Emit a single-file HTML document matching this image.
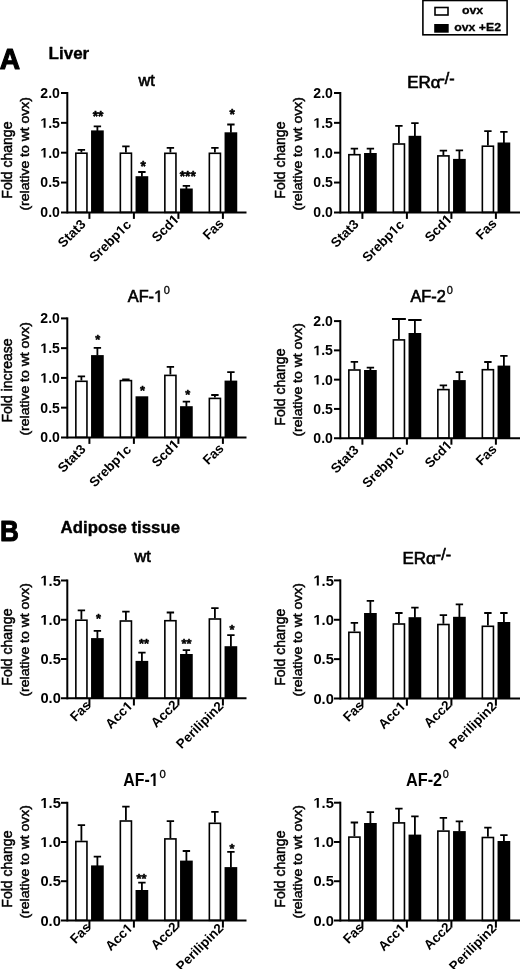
<!DOCTYPE html><html><head><meta charset="utf-8"><style>
html,body{margin:0;padding:0;background:#fff;width:520px;height:969px;overflow:hidden}
svg{display:block;font-family:"Liberation Sans", sans-serif;will-change:transform;font-kerning:none;filter:blur(0.3px)}
</style></head><body>
<svg width="520" height="969" viewBox="0 0 520 969">
<rect width="520" height="969" fill="#fff"/>
<rect x="422.9" y="0.5" width="84.2" height="34.3" fill="none" stroke="#000" stroke-width="1.6"/>
<rect x="435" y="7.5" width="13" height="7.5" fill="#fff" stroke="#000" stroke-width="1.6"/>
<rect x="434.2" y="24" width="14.5" height="8.7" fill="#000"/>
<text transform="translate(462 13.6) scale(1.1 1.0)" font-size="11.2" font-weight="bold" stroke="#000" stroke-width="0.3" stroke-linejoin="round">ovx</text>
<text transform="translate(454.2 31) scale(1.1 1.0)" font-size="11.2" font-weight="bold" stroke="#000" stroke-width="0.3" stroke-linejoin="round">ovx +E2</text>
<text transform="translate(-0.3 68.6) scale(0.93 1.0)" font-size="30.3" font-weight="bold" stroke="#000" stroke-width="1.2" stroke-linejoin="round">A</text>
<text transform="translate(48.6 59.2) scale(1.05 1.0)" font-size="16.2" font-weight="bold" stroke="#000" stroke-width="0.35" stroke-linejoin="round">Liver</text>
<text transform="translate(0 540.8) scale(0.9 1.0)" font-size="29" font-weight="bold" stroke="#000" stroke-width="1.0" stroke-linejoin="round">B</text>
<text transform="translate(60.6 533.2) scale(1.05 1.0)" font-size="16" font-weight="bold" stroke="#000" stroke-width="0.35" stroke-linejoin="round">Adipose tissue</text>
<rect x="75.85" y="153.2" width="11.1" height="59.2" fill="#fff" stroke="#000" stroke-width="1.6"/>
<path d="M81.4 152.4V149.8M77.7 149.8H85.1" stroke="#000" stroke-width="1.8" fill="none"/>
<rect x="91.05" y="130.4" width="12.7" height="82" fill="#000"/>
<path d="M97.4 130.9V126.4M93.7 126.4H101.1" stroke="#000" stroke-width="1.8" fill="none"/>
<path d="M89.4 212.4V218.9" stroke="#000" stroke-width="2.0"/>
<text transform="translate(86.4 225) rotate(-45)" font-size="13.4" font-weight="bold" text-anchor="end">Stat3</text>
<rect x="120.35" y="153.2" width="11.1" height="59.2" fill="#fff" stroke="#000" stroke-width="1.6"/>
<path d="M125.9 152.4V146.3M122.2 146.3H129.6" stroke="#000" stroke-width="1.8" fill="none"/>
<rect x="135.55" y="176.2" width="12.7" height="36.2" fill="#000"/>
<path d="M141.9 176.7V172M138.2 172H145.6" stroke="#000" stroke-width="1.8" fill="none"/>
<path d="M133.9 212.4V218.9" stroke="#000" stroke-width="2.0"/>
<g transform="translate(132 225.4) rotate(-45)"><text font-size="13.4" font-weight="bold" text-anchor="end">Srebp c</text><path d="M478 0L478 1170L140 959L140 1180L493 1409L759 1409L759 0Z" transform="translate(-14.9 0) scale(0.00654 -0.00654)"/></g>
<rect x="164.85" y="153.3" width="11.1" height="59.1" fill="#fff" stroke="#000" stroke-width="1.6"/>
<path d="M170.4 152.5V147.9M166.7 147.9H174.1" stroke="#000" stroke-width="1.8" fill="none"/>
<rect x="180.05" y="188.5" width="12.7" height="23.9" fill="#000"/>
<path d="M186.4 189V185.9M182.7 185.9H190.1" stroke="#000" stroke-width="1.8" fill="none"/>
<path d="M178.4 212.4V218.9" stroke="#000" stroke-width="2.0"/>
<g transform="translate(179.8 220.1) rotate(-45)"><text font-size="13.4" font-weight="bold" text-anchor="end">Scd </text><path d="M478 0L478 1170L140 959L140 1180L493 1409L759 1409L759 0Z" transform="translate(-7.45 0) scale(0.00654 -0.00654)"/></g>
<rect x="209.35" y="153.3" width="11.1" height="59.1" fill="#fff" stroke="#000" stroke-width="1.6"/>
<path d="M214.9 152.5V147.9M211.2 147.9H218.6" stroke="#000" stroke-width="1.8" fill="none"/>
<rect x="224.55" y="132.3" width="12.7" height="80.1" fill="#000"/>
<path d="M230.9 132.8V124.5M227.2 124.5H234.6" stroke="#000" stroke-width="1.8" fill="none"/>
<path d="M222.9 212.4V218.9" stroke="#000" stroke-width="2.0"/>
<text transform="translate(224.5 224.2) rotate(-45)" font-size="13.4" font-weight="bold" text-anchor="end">Fas</text>
<text transform="translate(98.1 120.85)" font-size="13.8" font-weight="bold" text-anchor="middle" stroke="#000" stroke-width="0.5" stroke-linejoin="round">**</text>
<text transform="translate(143.1 170.65)" font-size="13.8" font-weight="bold" text-anchor="middle" stroke="#000" stroke-width="0.5" stroke-linejoin="round">*</text>
<text transform="translate(187.7 180.5)" font-size="13.8" font-weight="bold" text-anchor="middle" stroke="#000" stroke-width="0.5" stroke-linejoin="round">***</text>
<text transform="translate(232.1 118.85)" font-size="13.8" font-weight="bold" text-anchor="middle" stroke="#000" stroke-width="0.5" stroke-linejoin="round">*</text>
<path d="M67.3 92V213.4" stroke="#000" stroke-width="2.0"/>
<path d="M61 212.4H246.5" stroke="#000" stroke-width="2.0"/>
<text transform="translate(59.9 217.3) scale(1.02 1)" font-size="13.8" font-weight="bold" text-anchor="end">0.0</text>
<path d="M61 182.55H67.3" stroke="#000" stroke-width="2.0"/>
<text transform="translate(59.9 187.45) scale(1.02 1)" font-size="13.8" font-weight="bold" text-anchor="end">0.5</text>
<path d="M61 152.7H67.3" stroke="#000" stroke-width="2.0"/>
<g transform="translate(59.9 157.6) scale(1.02 1)"><text font-size="13.8" font-weight="bold" text-anchor="end"> .0</text><path d="M478 0L478 1170L140 959L140 1180L493 1409L759 1409L759 0Z" transform="translate(-19.18 0) scale(0.00674 -0.00674)"/></g>
<path d="M61 122.85H67.3" stroke="#000" stroke-width="2.0"/>
<g transform="translate(59.9 127.75) scale(1.02 1)"><text font-size="13.8" font-weight="bold" text-anchor="end"> .5</text><path d="M478 0L478 1170L140 959L140 1180L493 1409L759 1409L759 0Z" transform="translate(-19.18 0) scale(0.00674 -0.00674)"/></g>
<path d="M61 93H67.3" stroke="#000" stroke-width="2.0"/>
<text transform="translate(59.9 97.9) scale(1.02 1)" font-size="13.8" font-weight="bold" text-anchor="end">2.0</text>
<text transform="translate(11.8 160.1) rotate(-90)" font-size="14" text-anchor="middle" stroke="#000" stroke-width="0.5">Fold change</text>
<text transform="translate(29 153.8) scale(0.92 1) rotate(-90)" font-size="14" text-anchor="middle" stroke="#000" stroke-width="0.5">(relative to wt ovx)</text>
<text transform="translate(138.5 86)" font-size="16.3" stroke="#000" stroke-width="0.65">wt</text>
<rect x="348.85" y="154.7" width="11.1" height="57.7" fill="#fff" stroke="#000" stroke-width="1.6"/>
<path d="M354.4 153.9V148.7M350.7 148.7H358.1" stroke="#000" stroke-width="1.8" fill="none"/>
<rect x="364.05" y="153" width="12.7" height="59.4" fill="#000"/>
<path d="M370.4 153.5V148.7M366.7 148.7H374.1" stroke="#000" stroke-width="1.8" fill="none"/>
<path d="M362.4 212.4V218.9" stroke="#000" stroke-width="2.0"/>
<text transform="translate(359.4 225) rotate(-45)" font-size="13.4" font-weight="bold" text-anchor="end">Stat3</text>
<rect x="393.35" y="144" width="11.1" height="68.4" fill="#fff" stroke="#000" stroke-width="1.6"/>
<path d="M398.9 143.2V125.9M395.2 125.9H402.6" stroke="#000" stroke-width="1.8" fill="none"/>
<rect x="408.55" y="135.8" width="12.7" height="76.6" fill="#000"/>
<path d="M414.9 136.3V123.1M411.2 123.1H418.6" stroke="#000" stroke-width="1.8" fill="none"/>
<path d="M406.9 212.4V218.9" stroke="#000" stroke-width="2.0"/>
<g transform="translate(405 225.4) rotate(-45)"><text font-size="13.4" font-weight="bold" text-anchor="end">Srebp c</text><path d="M478 0L478 1170L140 959L140 1180L493 1409L759 1409L759 0Z" transform="translate(-14.9 0) scale(0.00654 -0.00654)"/></g>
<rect x="437.85" y="155.9" width="11.1" height="56.5" fill="#fff" stroke="#000" stroke-width="1.6"/>
<path d="M443.4 155.1V150.6M439.7 150.6H447.1" stroke="#000" stroke-width="1.8" fill="none"/>
<rect x="453.05" y="158.9" width="12.7" height="53.5" fill="#000"/>
<path d="M459.4 159.4V150.3M455.7 150.3H463.1" stroke="#000" stroke-width="1.8" fill="none"/>
<path d="M451.4 212.4V218.9" stroke="#000" stroke-width="2.0"/>
<g transform="translate(452.8 220.1) rotate(-45)"><text font-size="13.4" font-weight="bold" text-anchor="end">Scd </text><path d="M478 0L478 1170L140 959L140 1180L493 1409L759 1409L759 0Z" transform="translate(-7.45 0) scale(0.00654 -0.00654)"/></g>
<rect x="482.35" y="146.2" width="11.1" height="66.2" fill="#fff" stroke="#000" stroke-width="1.6"/>
<path d="M487.9 145.4V131.2M484.2 131.2H491.6" stroke="#000" stroke-width="1.8" fill="none"/>
<rect x="497.55" y="142.5" width="12.7" height="69.9" fill="#000"/>
<path d="M503.9 143V131.8M500.2 131.8H507.6" stroke="#000" stroke-width="1.8" fill="none"/>
<path d="M495.9 212.4V218.9" stroke="#000" stroke-width="2.0"/>
<text transform="translate(497.5 224.2) rotate(-45)" font-size="13.4" font-weight="bold" text-anchor="end">Fas</text>
<path d="M340.3 92V213.4" stroke="#000" stroke-width="2.0"/>
<path d="M334 212.4H521.5" stroke="#000" stroke-width="2.0"/>
<text transform="translate(332.9 217.3) scale(1.02 1)" font-size="13.8" font-weight="bold" text-anchor="end">0.0</text>
<path d="M334 182.55H340.3" stroke="#000" stroke-width="2.0"/>
<text transform="translate(332.9 187.45) scale(1.02 1)" font-size="13.8" font-weight="bold" text-anchor="end">0.5</text>
<path d="M334 152.7H340.3" stroke="#000" stroke-width="2.0"/>
<g transform="translate(332.9 157.6) scale(1.02 1)"><text font-size="13.8" font-weight="bold" text-anchor="end"> .0</text><path d="M478 0L478 1170L140 959L140 1180L493 1409L759 1409L759 0Z" transform="translate(-19.18 0) scale(0.00674 -0.00674)"/></g>
<path d="M334 122.85H340.3" stroke="#000" stroke-width="2.0"/>
<g transform="translate(332.9 127.75) scale(1.02 1)"><text font-size="13.8" font-weight="bold" text-anchor="end"> .5</text><path d="M478 0L478 1170L140 959L140 1180L493 1409L759 1409L759 0Z" transform="translate(-19.18 0) scale(0.00674 -0.00674)"/></g>
<path d="M334 93H340.3" stroke="#000" stroke-width="2.0"/>
<text transform="translate(332.9 97.9) scale(1.02 1)" font-size="13.8" font-weight="bold" text-anchor="end">2.0</text>
<text transform="translate(284.8 160.1) rotate(-90)" font-size="14" text-anchor="middle" stroke="#000" stroke-width="0.5">Fold change</text>
<text transform="translate(302 153.8) scale(0.92 1) rotate(-90)" font-size="14" text-anchor="middle" stroke="#000" stroke-width="0.5">(relative to wt ovx)</text>
<text transform="translate(407.2 87.7)" font-size="17" stroke="#000" stroke-width="0.65">ERα<tspan dx="-1.1" dy="-4.2" font-size="16">-/-</tspan></text>
<rect x="75.85" y="381.3" width="11.1" height="56.1" fill="#fff" stroke="#000" stroke-width="1.6"/>
<path d="M81.4 380.5V376.4M77.7 376.4H85.1" stroke="#000" stroke-width="1.8" fill="none"/>
<rect x="91.05" y="355.1" width="12.7" height="82.3" fill="#000"/>
<path d="M97.4 355.6V347.8M93.7 347.8H101.1" stroke="#000" stroke-width="1.8" fill="none"/>
<path d="M89.4 437.4V443.9" stroke="#000" stroke-width="2.0"/>
<text transform="translate(86.4 450) rotate(-45)" font-size="13.4" font-weight="bold" text-anchor="end">Stat3</text>
<rect x="120.35" y="380.6" width="11.1" height="56.8" fill="#fff" stroke="#000" stroke-width="1.6"/>
<path d="M125.9 379.8V379.4M122.2 379.4H129.6" stroke="#000" stroke-width="1.8" fill="none"/>
<rect x="135.55" y="396.3" width="12.7" height="41.1" fill="#000"/>
<path d="M133.9 437.4V443.9" stroke="#000" stroke-width="2.0"/>
<g transform="translate(132 450.4) rotate(-45)"><text font-size="13.4" font-weight="bold" text-anchor="end">Srebp c</text><path d="M478 0L478 1170L140 959L140 1180L493 1409L759 1409L759 0Z" transform="translate(-14.9 0) scale(0.00654 -0.00654)"/></g>
<rect x="164.85" y="375.4" width="11.1" height="62" fill="#fff" stroke="#000" stroke-width="1.6"/>
<path d="M170.4 374.6V366.8M166.7 366.8H174.1" stroke="#000" stroke-width="1.8" fill="none"/>
<rect x="180.05" y="406.2" width="12.7" height="31.2" fill="#000"/>
<path d="M186.4 406.7V401.6M182.7 401.6H190.1" stroke="#000" stroke-width="1.8" fill="none"/>
<path d="M178.4 437.4V443.9" stroke="#000" stroke-width="2.0"/>
<g transform="translate(179.8 445.1) rotate(-45)"><text font-size="13.4" font-weight="bold" text-anchor="end">Scd </text><path d="M478 0L478 1170L140 959L140 1180L493 1409L759 1409L759 0Z" transform="translate(-7.45 0) scale(0.00654 -0.00654)"/></g>
<rect x="209.35" y="398.4" width="11.1" height="39" fill="#fff" stroke="#000" stroke-width="1.6"/>
<path d="M214.9 397.6V395M211.2 395H218.6" stroke="#000" stroke-width="1.8" fill="none"/>
<rect x="224.55" y="380.6" width="12.7" height="56.8" fill="#000"/>
<path d="M230.9 381.1V372.1M227.2 372.1H234.6" stroke="#000" stroke-width="1.8" fill="none"/>
<path d="M222.9 437.4V443.9" stroke="#000" stroke-width="2.0"/>
<text transform="translate(224.5 449.2) rotate(-45)" font-size="13.4" font-weight="bold" text-anchor="end">Fas</text>
<text transform="translate(97.7 343.64)" font-size="12.8" font-weight="bold" text-anchor="middle" stroke="#000" stroke-width="0.5" stroke-linejoin="round">*</text>
<text transform="translate(142.4 395.09)" font-size="12.8" font-weight="bold" text-anchor="middle" stroke="#000" stroke-width="0.5" stroke-linejoin="round">*</text>
<text transform="translate(187.7 399.09)" font-size="12.8" font-weight="bold" text-anchor="middle" stroke="#000" stroke-width="0.5" stroke-linejoin="round">*</text>
<path d="M67.3 317.4V438.4" stroke="#000" stroke-width="2.0"/>
<path d="M61 437.4H246.5" stroke="#000" stroke-width="2.0"/>
<text transform="translate(59.9 442.3) scale(1.02 1)" font-size="13.8" font-weight="bold" text-anchor="end">0.0</text>
<path d="M61 407.65H67.3" stroke="#000" stroke-width="2.0"/>
<text transform="translate(59.9 412.55) scale(1.02 1)" font-size="13.8" font-weight="bold" text-anchor="end">0.5</text>
<path d="M61 377.9H67.3" stroke="#000" stroke-width="2.0"/>
<g transform="translate(59.9 382.8) scale(1.02 1)"><text font-size="13.8" font-weight="bold" text-anchor="end"> .0</text><path d="M478 0L478 1170L140 959L140 1180L493 1409L759 1409L759 0Z" transform="translate(-19.18 0) scale(0.00674 -0.00674)"/></g>
<path d="M61 348.15H67.3" stroke="#000" stroke-width="2.0"/>
<g transform="translate(59.9 353.05) scale(1.02 1)"><text font-size="13.8" font-weight="bold" text-anchor="end"> .5</text><path d="M478 0L478 1170L140 959L140 1180L493 1409L759 1409L759 0Z" transform="translate(-19.18 0) scale(0.00674 -0.00674)"/></g>
<path d="M61 318.4H67.3" stroke="#000" stroke-width="2.0"/>
<text transform="translate(59.9 323.3) scale(1.02 1)" font-size="13.8" font-weight="bold" text-anchor="end">2.0</text>
<text transform="translate(11.8 380.5) rotate(-90)" font-size="14" text-anchor="middle" stroke="#000" stroke-width="0.5">Fold increase</text>
<text transform="translate(29 378.8) scale(0.92 1) rotate(-90)" font-size="14" text-anchor="middle" stroke="#000" stroke-width="0.5">(relative to wt ovx)</text>
<g transform="translate(127.8 301.9)"><text font-size="16.3" stroke="#000" stroke-width="0.65">AF- </text><path d="M515 0L515 1237L197 1010L197 1180L530 1409L696 1409L696 0Z" transform="translate(26.26 0) scale(0.00796 -0.00796)" stroke="#000" stroke-width="81.7" stroke-linejoin="round"/></g>
<text transform="translate(163.8 294.3)" font-size="11" stroke="#000" stroke-width="0.3">0</text>
<rect x="348.85" y="370" width="11.1" height="68.2" fill="#fff" stroke="#000" stroke-width="1.6"/>
<path d="M354.4 369.2V361.9M350.7 361.9H358.1" stroke="#000" stroke-width="1.8" fill="none"/>
<rect x="364.05" y="370" width="12.7" height="68.2" fill="#000"/>
<path d="M370.4 370.5V367.6M366.7 367.6H374.1" stroke="#000" stroke-width="1.8" fill="none"/>
<path d="M362.4 438.2V444.7" stroke="#000" stroke-width="2.0"/>
<text transform="translate(359.4 450.8) rotate(-45)" font-size="13.4" font-weight="bold" text-anchor="end">Stat3</text>
<rect x="393.35" y="339.9" width="11.1" height="98.3" fill="#fff" stroke="#000" stroke-width="1.6"/>
<path d="M398.9 339.1V319M391.95 319H405.85" stroke="#000" stroke-width="1.8" fill="none"/>
<rect x="408.55" y="333" width="12.7" height="105.2" fill="#000"/>
<path d="M414.9 333.5V320M408.2 320H421.6" stroke="#000" stroke-width="1.8" fill="none"/>
<path d="M406.9 438.2V444.7" stroke="#000" stroke-width="2.0"/>
<g transform="translate(405 451.2) rotate(-45)"><text font-size="13.4" font-weight="bold" text-anchor="end">Srebp c</text><path d="M478 0L478 1170L140 959L140 1180L493 1409L759 1409L759 0Z" transform="translate(-14.9 0) scale(0.00654 -0.00654)"/></g>
<rect x="437.85" y="389.6" width="11.1" height="48.6" fill="#fff" stroke="#000" stroke-width="1.6"/>
<path d="M443.4 388.8V385.3M439.7 385.3H447.1" stroke="#000" stroke-width="1.8" fill="none"/>
<rect x="453.05" y="380.1" width="12.7" height="58.1" fill="#000"/>
<path d="M459.4 380.6V372.2M455.7 372.2H463.1" stroke="#000" stroke-width="1.8" fill="none"/>
<path d="M451.4 438.2V444.7" stroke="#000" stroke-width="2.0"/>
<g transform="translate(452.8 445.9) rotate(-45)"><text font-size="13.4" font-weight="bold" text-anchor="end">Scd </text><path d="M478 0L478 1170L140 959L140 1180L493 1409L759 1409L759 0Z" transform="translate(-7.45 0) scale(0.00654 -0.00654)"/></g>
<rect x="482.35" y="369.7" width="11.1" height="68.5" fill="#fff" stroke="#000" stroke-width="1.6"/>
<path d="M487.9 368.9V362M484.2 362H491.6" stroke="#000" stroke-width="1.8" fill="none"/>
<rect x="497.55" y="365.6" width="12.7" height="72.6" fill="#000"/>
<path d="M503.9 366.1V355.9M500.2 355.9H507.6" stroke="#000" stroke-width="1.8" fill="none"/>
<path d="M495.9 438.2V444.7" stroke="#000" stroke-width="2.0"/>
<text transform="translate(497.5 450) rotate(-45)" font-size="13.4" font-weight="bold" text-anchor="end">Fas</text>
<path d="M340.3 320.1V439.2" stroke="#000" stroke-width="2.0"/>
<path d="M334 438.2H521.5" stroke="#000" stroke-width="2.0"/>
<text transform="translate(332.9 443.1) scale(1.02 1)" font-size="13.8" font-weight="bold" text-anchor="end">0.0</text>
<path d="M334 408.93H340.3" stroke="#000" stroke-width="2.0"/>
<text transform="translate(332.9 413.82) scale(1.02 1)" font-size="13.8" font-weight="bold" text-anchor="end">0.5</text>
<path d="M334 379.65H340.3" stroke="#000" stroke-width="2.0"/>
<g transform="translate(332.9 384.55) scale(1.02 1)"><text font-size="13.8" font-weight="bold" text-anchor="end"> .0</text><path d="M478 0L478 1170L140 959L140 1180L493 1409L759 1409L759 0Z" transform="translate(-19.18 0) scale(0.00674 -0.00674)"/></g>
<path d="M334 350.38H340.3" stroke="#000" stroke-width="2.0"/>
<g transform="translate(332.9 355.27) scale(1.02 1)"><text font-size="13.8" font-weight="bold" text-anchor="end"> .5</text><path d="M478 0L478 1170L140 959L140 1180L493 1409L759 1409L759 0Z" transform="translate(-19.18 0) scale(0.00674 -0.00674)"/></g>
<path d="M334 321.1H340.3" stroke="#000" stroke-width="2.0"/>
<text transform="translate(332.9 326) scale(1.02 1)" font-size="13.8" font-weight="bold" text-anchor="end">2.0</text>
<text transform="translate(284.8 387.1) rotate(-90)" font-size="14" text-anchor="middle" stroke="#000" stroke-width="0.5">Fold change</text>
<text transform="translate(302 379.8) scale(0.92 1) rotate(-90)" font-size="14" text-anchor="middle" stroke="#000" stroke-width="0.5">(relative to wt ovx)</text>
<text transform="translate(410.4 301.9)" font-size="16.3" stroke="#000" stroke-width="0.65">AF-2</text>
<text transform="translate(446.8 294.3)" font-size="11" stroke="#000" stroke-width="0.3">0</text>
<rect x="75.85" y="620.2" width="11.1" height="78.1" fill="#fff" stroke="#000" stroke-width="1.6"/>
<path d="M81.4 619.4V610.4M77.7 610.4H85.1" stroke="#000" stroke-width="1.8" fill="none"/>
<rect x="91.05" y="638.1" width="12.7" height="60.2" fill="#000"/>
<path d="M97.4 638.6V630.8M93.7 630.8H101.1" stroke="#000" stroke-width="1.8" fill="none"/>
<path d="M89.4 698.3V705.5" stroke="#000" stroke-width="2.0"/>
<text transform="translate(91.8 706) rotate(-45)" font-size="13.4" font-weight="bold" text-anchor="end">Fas</text>
<rect x="120.35" y="621" width="11.1" height="77.3" fill="#fff" stroke="#000" stroke-width="1.6"/>
<path d="M125.9 620.2V611.6M122.2 611.6H129.6" stroke="#000" stroke-width="1.8" fill="none"/>
<rect x="135.55" y="660.9" width="12.7" height="37.4" fill="#000"/>
<path d="M141.9 661.4V652.6M138.2 652.6H145.6" stroke="#000" stroke-width="1.8" fill="none"/>
<path d="M133.9 698.3V705.5" stroke="#000" stroke-width="2.0"/>
<g transform="translate(133.4 706.8) rotate(-45)"><text font-size="13.4" font-weight="bold" text-anchor="end">Acc </text><path d="M478 0L478 1170L140 959L140 1180L493 1409L759 1409L759 0Z" transform="translate(-7.45 0) scale(0.00654 -0.00654)"/></g>
<rect x="164.85" y="620.7" width="11.1" height="77.6" fill="#fff" stroke="#000" stroke-width="1.6"/>
<path d="M170.4 619.9V612.5M166.7 612.5H174.1" stroke="#000" stroke-width="1.8" fill="none"/>
<rect x="180.05" y="654" width="12.7" height="44.3" fill="#000"/>
<path d="M186.4 654.5V650.2M182.7 650.2H190.1" stroke="#000" stroke-width="1.8" fill="none"/>
<path d="M178.4 698.3V705.5" stroke="#000" stroke-width="2.0"/>
<text transform="translate(179 705.7) rotate(-45)" font-size="13.4" font-weight="bold" text-anchor="end">Acc2</text>
<rect x="209.35" y="619" width="11.1" height="79.3" fill="#fff" stroke="#000" stroke-width="1.6"/>
<path d="M214.9 618.2V608.1M211.2 608.1H218.6" stroke="#000" stroke-width="1.8" fill="none"/>
<rect x="224.55" y="646.2" width="12.7" height="52.1" fill="#000"/>
<path d="M230.9 646.7V635.1M227.2 635.1H234.6" stroke="#000" stroke-width="1.8" fill="none"/>
<path d="M222.9 698.3V705.5" stroke="#000" stroke-width="2.0"/>
<text transform="translate(224.2 706.9) rotate(-45)" font-size="13.4" font-weight="bold" text-anchor="end">Perilipin2</text>
<text transform="translate(98.6 623.04)" font-size="12.8" font-weight="bold" text-anchor="middle" stroke="#000" stroke-width="0.5" stroke-linejoin="round">*</text>
<text transform="translate(144 647.64)" font-size="12.8" font-weight="bold" text-anchor="middle" stroke="#000" stroke-width="0.5" stroke-linejoin="round">**</text>
<text transform="translate(186.4 647.99)" font-size="12.8" font-weight="bold" text-anchor="middle" stroke="#000" stroke-width="0.5" stroke-linejoin="round">**</text>
<text transform="translate(231.9 633.94)" font-size="12.8" font-weight="bold" text-anchor="middle" stroke="#000" stroke-width="0.5" stroke-linejoin="round">*</text>
<path d="M67.3 579.5V699.3" stroke="#000" stroke-width="2.0"/>
<path d="M61 698.3H246.5" stroke="#000" stroke-width="2.0"/>
<text transform="translate(60.8 703.4) scale(1.02 1)" font-size="14.4" font-weight="bold" text-anchor="end">0.0</text>
<path d="M61 659.03H67.3" stroke="#000" stroke-width="2.0"/>
<text transform="translate(60.8 664.13) scale(1.02 1)" font-size="14.4" font-weight="bold" text-anchor="end">0.5</text>
<path d="M61 619.77H67.3" stroke="#000" stroke-width="2.0"/>
<g transform="translate(60.8 624.87) scale(1.02 1)"><text font-size="14.4" font-weight="bold" text-anchor="end"> .0</text><path d="M478 0L478 1170L140 959L140 1180L493 1409L759 1409L759 0Z" transform="translate(-20.02 0) scale(0.00703 -0.00703)"/></g>
<path d="M61 580.5H67.3" stroke="#000" stroke-width="2.0"/>
<g transform="translate(60.8 585.6) scale(1.02 1)"><text font-size="14.4" font-weight="bold" text-anchor="end"> .5</text><path d="M478 0L478 1170L140 959L140 1180L493 1409L759 1409L759 0Z" transform="translate(-20.02 0) scale(0.00703 -0.00703)"/></g>
<text transform="translate(11.8 647.1) rotate(-90)" font-size="14" text-anchor="middle" stroke="#000" stroke-width="0.5">Fold change</text>
<text transform="translate(29 639.8) scale(0.92 1) rotate(-90)" font-size="14" text-anchor="middle" stroke="#000" stroke-width="0.5">(relative to wt ovx)</text>
<text transform="translate(134.4 562)" font-size="16.3" stroke="#000" stroke-width="0.65">wt</text>
<rect x="348.85" y="632.3" width="11.1" height="66.2" fill="#fff" stroke="#000" stroke-width="1.6"/>
<path d="M354.4 631.5V622.9M350.7 622.9H358.1" stroke="#000" stroke-width="1.8" fill="none"/>
<rect x="364.05" y="613" width="12.7" height="85.5" fill="#000"/>
<path d="M370.4 613.5V600.9M366.7 600.9H374.1" stroke="#000" stroke-width="1.8" fill="none"/>
<path d="M362.4 698.5V705.7" stroke="#000" stroke-width="2.0"/>
<text transform="translate(364.8 706.2) rotate(-45)" font-size="13.4" font-weight="bold" text-anchor="end">Fas</text>
<rect x="393.35" y="624" width="11.1" height="74.5" fill="#fff" stroke="#000" stroke-width="1.6"/>
<path d="M398.9 623.2V613M395.2 613H402.6" stroke="#000" stroke-width="1.8" fill="none"/>
<rect x="408.55" y="617.2" width="12.7" height="81.3" fill="#000"/>
<path d="M414.9 617.7V607.6M411.2 607.6H418.6" stroke="#000" stroke-width="1.8" fill="none"/>
<path d="M406.9 698.5V705.7" stroke="#000" stroke-width="2.0"/>
<g transform="translate(406.4 707) rotate(-45)"><text font-size="13.4" font-weight="bold" text-anchor="end">Acc </text><path d="M478 0L478 1170L140 959L140 1180L493 1409L759 1409L759 0Z" transform="translate(-7.45 0) scale(0.00654 -0.00654)"/></g>
<rect x="437.85" y="624.5" width="11.1" height="74" fill="#fff" stroke="#000" stroke-width="1.6"/>
<path d="M443.4 623.7V615.1M439.7 615.1H447.1" stroke="#000" stroke-width="1.8" fill="none"/>
<rect x="453.05" y="616.8" width="12.7" height="81.7" fill="#000"/>
<path d="M459.4 617.3V604.4M455.7 604.4H463.1" stroke="#000" stroke-width="1.8" fill="none"/>
<path d="M451.4 698.5V705.7" stroke="#000" stroke-width="2.0"/>
<text transform="translate(452 705.9) rotate(-45)" font-size="13.4" font-weight="bold" text-anchor="end">Acc2</text>
<rect x="482.35" y="626.3" width="11.1" height="72.2" fill="#fff" stroke="#000" stroke-width="1.6"/>
<path d="M487.9 625.5V613M484.2 613H491.6" stroke="#000" stroke-width="1.8" fill="none"/>
<rect x="497.55" y="622" width="12.7" height="76.5" fill="#000"/>
<path d="M503.9 622.5V613M500.2 613H507.6" stroke="#000" stroke-width="1.8" fill="none"/>
<path d="M495.9 698.5V705.7" stroke="#000" stroke-width="2.0"/>
<text transform="translate(497.2 707.1) rotate(-45)" font-size="13.4" font-weight="bold" text-anchor="end">Perilipin2</text>
<path d="M340.3 579.4V699.5" stroke="#000" stroke-width="2.0"/>
<path d="M334 698.5H521.5" stroke="#000" stroke-width="2.0"/>
<text transform="translate(333.8 703.6) scale(1.02 1)" font-size="14.4" font-weight="bold" text-anchor="end">0.0</text>
<path d="M334 659.13H340.3" stroke="#000" stroke-width="2.0"/>
<text transform="translate(333.8 664.23) scale(1.02 1)" font-size="14.4" font-weight="bold" text-anchor="end">0.5</text>
<path d="M334 619.77H340.3" stroke="#000" stroke-width="2.0"/>
<g transform="translate(333.8 624.87) scale(1.02 1)"><text font-size="14.4" font-weight="bold" text-anchor="end"> .0</text><path d="M478 0L478 1170L140 959L140 1180L493 1409L759 1409L759 0Z" transform="translate(-20.02 0) scale(0.00703 -0.00703)"/></g>
<path d="M334 580.4H340.3" stroke="#000" stroke-width="2.0"/>
<g transform="translate(333.8 585.5) scale(1.02 1)"><text font-size="14.4" font-weight="bold" text-anchor="end"> .5</text><path d="M478 0L478 1170L140 959L140 1180L493 1409L759 1409L759 0Z" transform="translate(-20.02 0) scale(0.00703 -0.00703)"/></g>
<text transform="translate(284.8 647.3) rotate(-90)" font-size="14" text-anchor="middle" stroke="#000" stroke-width="0.5">Fold change</text>
<text transform="translate(302 639.8) scale(0.92 1) rotate(-90)" font-size="14" text-anchor="middle" stroke="#000" stroke-width="0.5">(relative to wt ovx)</text>
<text transform="translate(402.4 564.2)" font-size="17" stroke="#000" stroke-width="0.65">ERα<tspan dy="-4.2" font-size="16">-/-</tspan></text>
<rect x="75.85" y="841.5" width="11.1" height="78.9" fill="#fff" stroke="#000" stroke-width="1.6"/>
<path d="M81.4 840.7V825.1M77.7 825.1H85.1" stroke="#000" stroke-width="1.8" fill="none"/>
<rect x="91.05" y="865.4" width="12.7" height="55" fill="#000"/>
<path d="M97.4 865.9V856.7M93.7 856.7H101.1" stroke="#000" stroke-width="1.8" fill="none"/>
<path d="M89.4 920.4V927.6" stroke="#000" stroke-width="2.0"/>
<text transform="translate(91.8 928.1) rotate(-45)" font-size="13.4" font-weight="bold" text-anchor="end">Fas</text>
<rect x="120.35" y="821" width="11.1" height="99.4" fill="#fff" stroke="#000" stroke-width="1.6"/>
<path d="M125.9 820.2V806.6M122.2 806.6H129.6" stroke="#000" stroke-width="1.8" fill="none"/>
<rect x="135.55" y="890" width="12.7" height="30.4" fill="#000"/>
<path d="M141.9 890.5V882.7M138.2 882.7H145.6" stroke="#000" stroke-width="1.8" fill="none"/>
<path d="M133.9 920.4V927.6" stroke="#000" stroke-width="2.0"/>
<g transform="translate(133.4 928.9) rotate(-45)"><text font-size="13.4" font-weight="bold" text-anchor="end">Acc </text><path d="M478 0L478 1170L140 959L140 1180L493 1409L759 1409L759 0Z" transform="translate(-7.45 0) scale(0.00654 -0.00654)"/></g>
<rect x="164.85" y="838.9" width="11.1" height="81.5" fill="#fff" stroke="#000" stroke-width="1.6"/>
<path d="M170.4 838.1V821.1M166.7 821.1H174.1" stroke="#000" stroke-width="1.8" fill="none"/>
<rect x="180.05" y="860.6" width="12.7" height="59.8" fill="#000"/>
<path d="M186.4 861.1V851M182.7 851H190.1" stroke="#000" stroke-width="1.8" fill="none"/>
<path d="M178.4 920.4V927.6" stroke="#000" stroke-width="2.0"/>
<text transform="translate(179 927.8) rotate(-45)" font-size="13.4" font-weight="bold" text-anchor="end">Acc2</text>
<rect x="209.35" y="823.3" width="11.1" height="97.1" fill="#fff" stroke="#000" stroke-width="1.6"/>
<path d="M214.9 822.5V811.8M211.2 811.8H218.6" stroke="#000" stroke-width="1.8" fill="none"/>
<rect x="224.55" y="867.1" width="12.7" height="53.3" fill="#000"/>
<path d="M230.9 867.6V851.9M227.2 851.9H234.6" stroke="#000" stroke-width="1.8" fill="none"/>
<path d="M222.9 920.4V927.6" stroke="#000" stroke-width="2.0"/>
<text transform="translate(224.2 929) rotate(-45)" font-size="13.4" font-weight="bold" text-anchor="end">Perilipin2</text>
<text transform="translate(141.5 882.59)" font-size="12.8" font-weight="bold" text-anchor="middle" stroke="#000" stroke-width="0.5" stroke-linejoin="round">**</text>
<text transform="translate(232 852.54)" font-size="12.8" font-weight="bold" text-anchor="middle" stroke="#000" stroke-width="0.5" stroke-linejoin="round">*</text>
<path d="M67.3 801.8V921.4" stroke="#000" stroke-width="2.0"/>
<path d="M61 920.4H246.5" stroke="#000" stroke-width="2.0"/>
<text transform="translate(60.8 925.5) scale(1.02 1)" font-size="14.4" font-weight="bold" text-anchor="end">0.0</text>
<path d="M61 881.2H67.3" stroke="#000" stroke-width="2.0"/>
<text transform="translate(60.8 886.3) scale(1.02 1)" font-size="14.4" font-weight="bold" text-anchor="end">0.5</text>
<path d="M61 842H67.3" stroke="#000" stroke-width="2.0"/>
<g transform="translate(60.8 847.1) scale(1.02 1)"><text font-size="14.4" font-weight="bold" text-anchor="end"> .0</text><path d="M478 0L478 1170L140 959L140 1180L493 1409L759 1409L759 0Z" transform="translate(-20.02 0) scale(0.00703 -0.00703)"/></g>
<path d="M61 802.8H67.3" stroke="#000" stroke-width="2.0"/>
<g transform="translate(60.8 807.9) scale(1.02 1)"><text font-size="14.4" font-weight="bold" text-anchor="end"> .5</text><path d="M478 0L478 1170L140 959L140 1180L493 1409L759 1409L759 0Z" transform="translate(-20.02 0) scale(0.00703 -0.00703)"/></g>
<text transform="translate(11.8 869.1) rotate(-90)" font-size="14" text-anchor="middle" stroke="#000" stroke-width="0.5">Fold change</text>
<text transform="translate(29 861.8) scale(0.92 1) rotate(-90)" font-size="14" text-anchor="middle" stroke="#000" stroke-width="0.5">(relative to wt ovx)</text>
<g transform="translate(123.2 786) scale(0.86 1)"><text font-size="18.5" font-weight="bold">AF- </text><path d="M478 0L478 1170L140 959L140 1180L493 1409L759 1409L759 0Z" transform="translate(30.82 0) scale(0.00903 -0.00903)"/></g>
<text transform="translate(159.6 778.2)" font-size="11.3" stroke="#000" stroke-width="0.3">0</text>
<rect x="348.85" y="837.1" width="11.1" height="83.4" fill="#fff" stroke="#000" stroke-width="1.6"/>
<path d="M354.4 836.3V822.5M350.7 822.5H358.1" stroke="#000" stroke-width="1.8" fill="none"/>
<rect x="364.05" y="823" width="12.7" height="97.5" fill="#000"/>
<path d="M370.4 823.5V812.1M366.7 812.1H374.1" stroke="#000" stroke-width="1.8" fill="none"/>
<path d="M362.4 920.5V927.7" stroke="#000" stroke-width="2.0"/>
<text transform="translate(364.8 928.2) rotate(-45)" font-size="13.4" font-weight="bold" text-anchor="end">Fas</text>
<rect x="393.35" y="822.9" width="11.1" height="97.6" fill="#fff" stroke="#000" stroke-width="1.6"/>
<path d="M398.9 822.1V808.7M395.2 808.7H402.6" stroke="#000" stroke-width="1.8" fill="none"/>
<rect x="408.55" y="834.6" width="12.7" height="85.9" fill="#000"/>
<path d="M414.9 835.1V816.4M411.2 816.4H418.6" stroke="#000" stroke-width="1.8" fill="none"/>
<path d="M406.9 920.5V927.7" stroke="#000" stroke-width="2.0"/>
<g transform="translate(406.4 929) rotate(-45)"><text font-size="13.4" font-weight="bold" text-anchor="end">Acc </text><path d="M478 0L478 1170L140 959L140 1180L493 1409L759 1409L759 0Z" transform="translate(-7.45 0) scale(0.00654 -0.00654)"/></g>
<rect x="437.85" y="831.1" width="11.1" height="89.4" fill="#fff" stroke="#000" stroke-width="1.6"/>
<path d="M443.4 830.3V817.8M439.7 817.8H447.1" stroke="#000" stroke-width="1.8" fill="none"/>
<rect x="453.05" y="831.1" width="12.7" height="89.4" fill="#000"/>
<path d="M459.4 831.6V821.3M455.7 821.3H463.1" stroke="#000" stroke-width="1.8" fill="none"/>
<path d="M451.4 920.5V927.7" stroke="#000" stroke-width="2.0"/>
<text transform="translate(452 927.9) rotate(-45)" font-size="13.4" font-weight="bold" text-anchor="end">Acc2</text>
<rect x="482.35" y="837.5" width="11.1" height="83" fill="#fff" stroke="#000" stroke-width="1.6"/>
<path d="M487.9 836.7V827.7M484.2 827.7H491.6" stroke="#000" stroke-width="1.8" fill="none"/>
<rect x="497.55" y="841" width="12.7" height="79.5" fill="#000"/>
<path d="M503.9 841.5V835.1M500.2 835.1H507.6" stroke="#000" stroke-width="1.8" fill="none"/>
<path d="M495.9 920.5V927.7" stroke="#000" stroke-width="2.0"/>
<text transform="translate(497.2 929.1) rotate(-45)" font-size="13.4" font-weight="bold" text-anchor="end">Perilipin2</text>
<path d="M340.3 801.7V921.5" stroke="#000" stroke-width="2.0"/>
<path d="M334 920.5H521.5" stroke="#000" stroke-width="2.0"/>
<text transform="translate(333.8 925.6) scale(1.02 1)" font-size="14.4" font-weight="bold" text-anchor="end">0.0</text>
<path d="M334 881.23H340.3" stroke="#000" stroke-width="2.0"/>
<text transform="translate(333.8 886.33) scale(1.02 1)" font-size="14.4" font-weight="bold" text-anchor="end">0.5</text>
<path d="M334 841.97H340.3" stroke="#000" stroke-width="2.0"/>
<g transform="translate(333.8 847.07) scale(1.02 1)"><text font-size="14.4" font-weight="bold" text-anchor="end"> .0</text><path d="M478 0L478 1170L140 959L140 1180L493 1409L759 1409L759 0Z" transform="translate(-20.02 0) scale(0.00703 -0.00703)"/></g>
<path d="M334 802.7H340.3" stroke="#000" stroke-width="2.0"/>
<g transform="translate(333.8 807.8) scale(1.02 1)"><text font-size="14.4" font-weight="bold" text-anchor="end"> .5</text><path d="M478 0L478 1170L140 959L140 1180L493 1409L759 1409L759 0Z" transform="translate(-20.02 0) scale(0.00703 -0.00703)"/></g>
<text transform="translate(284.8 869.1) rotate(-90)" font-size="14" text-anchor="middle" stroke="#000" stroke-width="0.5">Fold change</text>
<text transform="translate(302 861.8) scale(0.92 1) rotate(-90)" font-size="14" text-anchor="middle" stroke="#000" stroke-width="0.5">(relative to wt ovx)</text>
<text transform="translate(406 786) scale(0.88 1)" font-size="18.5" font-weight="bold">AF-2</text>
<text transform="translate(442.7 778.2)" font-size="10.8" stroke="#000" stroke-width="0.3">0</text>
</svg></body></html>
